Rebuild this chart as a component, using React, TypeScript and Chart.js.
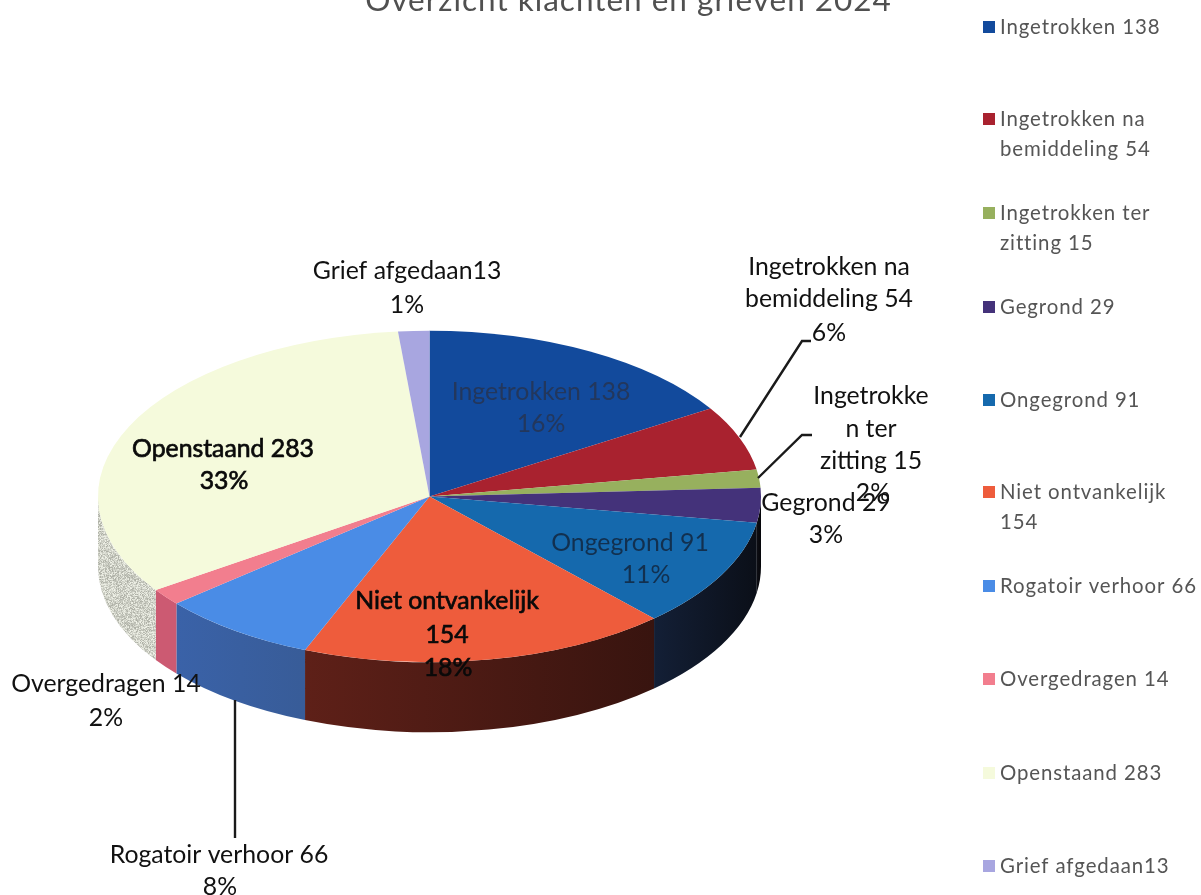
import React, { useEffect, useRef } from "react";
import { Chart, registerables } from "chart.js";

Chart.register(...registerables);

const categories = [
  "Ingetrokken", "Ingetrokken na bemiddeling", "Ingetrokken ter zitting", "Gegrond", "Ongegrond",
  "Niet ontvankelijk", "Rogatoir verhoor", "Overgedragen", "Openstaand", "Grief afgedaan",
];
const values = [138, 54, 15, 29, 91, 154, 66, 14, 283, 13];
const percentLabels = ["16%", "6%", "2%", "3%", "11%", "18%", "8%", "2%", "33%", "1%"];
const titleText = "Overzicht klachten en grieven 2024";

const topColors = ["#124a9c", "#a9222f", "#97b05e", "#44327a", "#1569ad", "#ee5c3c", "#4a8ce6", "#f27e8e", "#f5fadc", "#a8a6e0"];
const wallColors: [string, string][] = [
  ["#0b2a5c", "#0b2a5c"], ["#5c1018", "#5c1018"], ["#445028", "#445028"], ["#0e0e14", "#05060a"],
  ["#131f36", "#0b0f18"], ["#5e2018", "#38140f"], ["#3a62a8", "#385c98"], ["#cc5a72", "#cc5a72"],
  ["#c4c6b6", "#c4c6b6"], ["#777", "#777"],
];

const legendLines = [
  ["Ingetrokken 138"], ["Ingetrokken na", "bemiddeling 54"], ["Ingetrokken ter", "zitting 15"], ["Gegrond 29"],
  ["Ongegrond 91"], ["Niet ontvankelijk", "154"], ["Rogatoir verhoor 66"], ["Overgedragen 14"],
  ["Openstaand 283"], ["Grief afgedaan13"],
];
const legendTops = [27, 119, 213, 307, 400, 492, 586, 679, 773, 866];

type Lab = { lines: string[]; cx: number; ys: number[]; pctX: number; color: string; heavy?: boolean };
const dataLabels: Lab[] = [
  { lines: ["Ingetrokken 138"], cx: 541, ys: [392, 424], pctX: 541, color: "#23375c" },
  { lines: ["Ingetrokken na", "bemiddeling 54"], cx: 829, ys: [267, 299, 333], pctX: 829, color: "#111" },
  { lines: ["Ingetrokke", "n ter", "zitting 15"], cx: 871, ys: [396, 429, 461, 493], pctX: 873, color: "#111" },
  { lines: ["Gegrond 29"], cx: 826, ys: [503, 535], pctX: 826, color: "#111" },
  { lines: ["Ongegrond 91"], cx: 630, ys: [543, 575], pctX: 646, color: "#12304f" },
  { lines: ["Niet ontvankelijk", "154"], cx: 447, ys: [601, 635, 668], pctX: 448, color: "#0a0a0a", heavy: true },
  { lines: ["Rogatoir verhoor 66"], cx: 219, ys: [855, 887], pctX: 220, color: "#111" },
  { lines: ["Overgedragen 14"], cx: 106, ys: [684, 718], pctX: 106, color: "#111" },
  { lines: ["Openstaand 283"], cx: 223, ys: [449, 481], pctX: 224, color: "#0a0a0a", heavy: true },
  { lines: ["Grief afgedaan13"], cx: 407, ys: [271, 305], pctX: 407, color: "#111" },
];
const leaders: [number, number][][] = [
  [[740, 437], [802, 341], [811, 341]],
  [[758, 478], [802, 435], [812, 435]],
  [[235, 700], [235, 838]],
];

const DEPTH = 70;
const SQUASH = 0.5;

function noisePattern(ctx: CanvasRenderingContext2D) {
  const c = document.createElement("canvas");
  c.width = c.height = 48;
  const g = c.getContext("2d")!;
  const img = g.createImageData(48, 48);
  let s = 12345;
  for (let i = 0; i < img.data.length; i += 4) {
    s = (s * 1103515 + 12345) & 0x7fffffff;
    const v = 170 + ((s >> 8) % 70);
    img.data[i] = v + 2;
    img.data[i + 1] = v + 4;
    img.data[i + 2] = v - 6;
    img.data[i + 3] = 255;
  }
  g.putImageData(img, 0, 0);
  return ctx.createPattern(c, "repeat")!;
}

const pie3d = {
  id: "pie3d",
  beforeDatasetsDraw(chart: any) {
    const ctx: CanvasRenderingContext2D = chart.ctx;
    const arcs = chart.getDatasetMeta(0).data;
    const cx = arcs[0].x, cy = arcs[0].y, rx = arcs[0].outerRadius, ry = rx * SQUASH;
    arcs.forEach((a: any, i: number) => {
      const a0 = Math.max(a.startAngle, 0);
      const a1 = Math.min(a.endAngle, Math.PI);
      if (a1 <= a0) return;
      const x0 = cx + rx * Math.cos(a0), x1 = cx + rx * Math.cos(a1);
      ctx.beginPath();
      ctx.ellipse(cx, cy, rx, ry, 0, a0, a1);
      ctx.ellipse(cx, cy + DEPTH, rx, ry, 0, a1, a0, true);
      ctx.closePath();
      if (i === 8) {
        ctx.fillStyle = noisePattern(ctx);
      } else {
        const g = ctx.createLinearGradient(x1, 0, x0, 0);
        g.addColorStop(0, wallColors[i][0]);
        g.addColorStop(1, wallColors[i][1]);
        ctx.fillStyle = g;
      }
      ctx.fill();
    });
    ctx.save();
    ctx.translate(cx, cy);
    ctx.scale(1, SQUASH);
    ctx.translate(-cx, -cy);
  },
  afterDatasetsDraw(chart: any) {
    chart.ctx.restore();
  },
  afterDraw(chart: any) {
    const ctx: CanvasRenderingContext2D = chart.ctx;
    ctx.save();
    // title
    ctx.textAlign = "center";
    ctx.textBaseline = "alphabetic";
    ctx.font = "400 31.5px Lato";
    (ctx as any).letterSpacing = "1px";
    ctx.fillStyle = "#505050";
    ctx.fillText(titleText, 628.5, 11);
    // leaders
    ctx.strokeStyle = "#1a1a1a";
    ctx.lineWidth = 2.4;
    leaders.forEach((pts) => {
      ctx.beginPath();
      pts.forEach(([x, y], k) => (k ? ctx.lineTo(x, y) : ctx.moveTo(x, y)));
      ctx.stroke();
    });
    // data labels
    ctx.textBaseline = "middle";
    ctx.font = "24.8px Lato";
    (ctx as any).letterSpacing = "0px";
    ctx.lineWidth = 0.7;
    dataLabels.forEach((l, i) => {
      ctx.fillStyle = l.color;
      ctx.strokeStyle = l.color;
      const put = (t: string, x: number, y: number) => {
        ctx.fillText(t, x, y);
        if (l.heavy) ctx.strokeText(t, x, y);
      };
      l.lines.forEach((t, k) => put(t, l.cx, l.ys[k]));
      put(percentLabels[i], l.pctX, l.ys[l.lines.length]);
    });
    // legend
    ctx.textAlign = "left";
    ctx.font = "20.4px Lato";
    (ctx as any).letterSpacing = "0.9px";
    legendLines.forEach((lines, i) => {
      const y = legendTops[i];
      ctx.fillStyle = topColors[i];
      ctx.fillRect(983, y - 6, 12, 12);
      ctx.fillStyle = "#555";
      lines.forEach((t, k) => ctx.fillText(t, 1000, y + k * 30));
    });
    ctx.restore();
  },
};

export default function App() {
  const ref = useRef<HTMLCanvasElement>(null);
  useEffect(() => {
    const chart = new Chart(ref.current!, {
      type: "pie",
      data: {
        labels: categories,
        datasets: [{ data: values, backgroundColor: topColors, borderWidth: 0 }],
      },
      options: {
        animation: false,
        responsive: false,
        events: [],
        layout: { padding: { left: 98, right: 440, top: 165, bottom: 67 } },
        plugins: { legend: { display: false }, tooltip: { enabled: false }, title: { display: false } },
      },
      plugins: [pie3d],
    } as any);
    return () => chart.destroy();
  }, []);
  return (
    <canvas
      ref={ref}
      width={1201}
      height={895}
      style={{ position: "absolute", left: 0, top: 0, display: "block", filter: "blur(0.5px)" }}
    />
  );
}
